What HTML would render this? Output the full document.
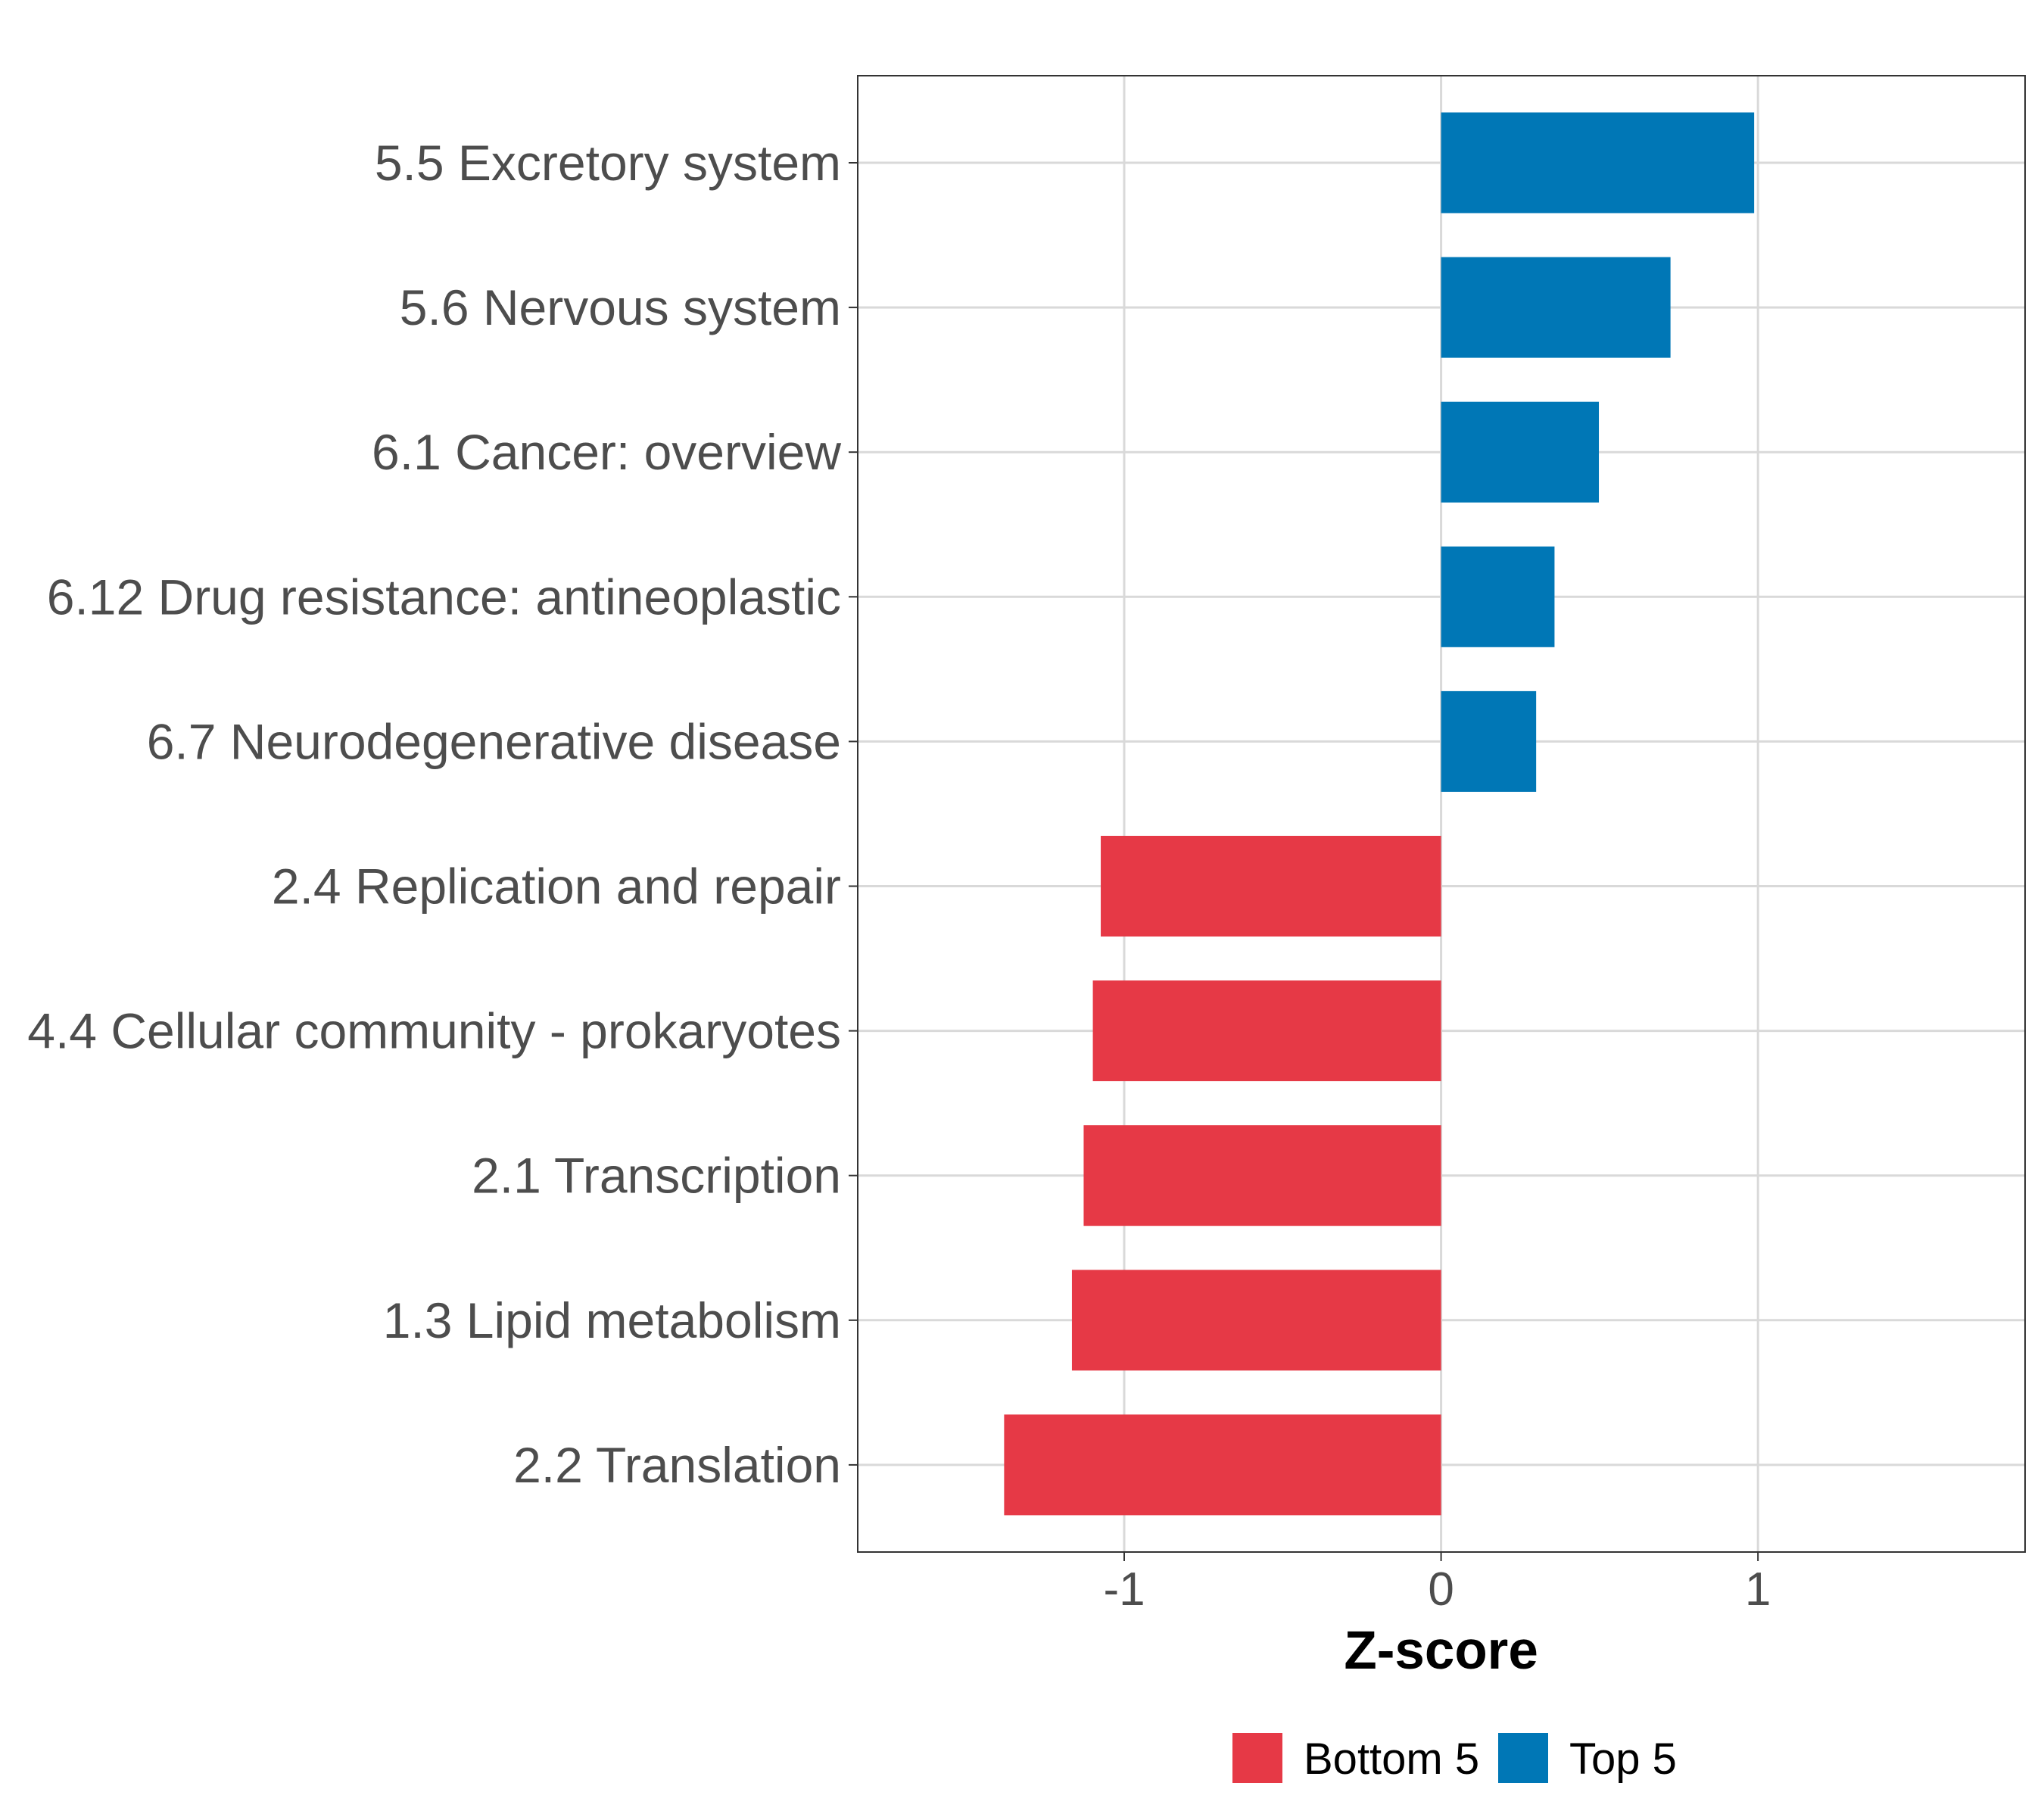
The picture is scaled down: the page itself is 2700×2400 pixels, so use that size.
<!DOCTYPE html>
<html><head><meta charset="utf-8"><style>
html,body{margin:0;padding:0;background:#fff;}
svg{display:block;font-family:"Liberation Sans",Arial,sans-serif;}
</style></head><body>
<svg id="chart" width="2700" height="2400" viewBox="0 0 2700 2400"></svg>
<script>
const categories=["5.5 Excretory system","5.6 Nervous system","6.1 Cancer: overview","6.12 Drug resistance: antineoplastic","6.7 Neurodegenerative disease","2.4 Replication and repair","4.4 Cellular community - prokaryotes","2.1 Transcription","1.3 Lipid metabolism","2.2 Translation"];
const values=[0.988,0.724,0.498,0.358,0.30,-1.074,-1.099,-1.128,-1.165,-1.379];
const groups=["Top 5","Top 5","Top 5","Top 5","Top 5","Bottom 5","Bottom 5","Bottom 5","Bottom 5","Bottom 5"];
const xTicks=[-1,0,1];
const xTickLabels=["-1","0","1"];
const legendLabels=["Bottom 5","Top 5"];

const NS="http://www.w3.org/2000/svg";
const svg=document.getElementById('chart');
const L=1133,R=2675,T=100,B=2050;
const xMin=-1.841,xMax=1.843;
const xs=v=>L+(v-xMin)/(xMax-xMin)*(R-L);
const step=191.1, y0=215;
const ys=i=>y0+i*step;
const barH=133;
const colors={"Top 5":"#0077b6","Bottom 5":"#e63946"};
function mk(tag,attrs,parent){const e=document.createElementNS(NS,tag);for(const k in attrs)e.setAttribute(k,attrs[k]);(parent||svg).appendChild(e);return e;}

xTicks.forEach((t,i)=>{
  const g=mk('line',{x1:xs(t),x2:xs(t),y1:T,y2:B,stroke:'#d9d9d9','stroke-width':3});
  
  
});
categories.forEach((c,i)=>{
  const g=mk('line',{x1:L,x2:R,y1:ys(i),y2:ys(i),stroke:'#d9d9d9','stroke-width':3});
  
  
});
categories.forEach((c,i)=>{
  const v=values[i];
  const x=Math.min(xs(0),xs(v)), w=Math.abs(xs(v)-xs(0));
  const r=mk('rect',{x:x,y:ys(i)-barH/2,width:w,height:barH,fill:colors[groups[i]]});
  
  
});
const pb=mk('rect',{x:L,y:T,width:R-L,height:B-T,fill:'none',stroke:'#333','stroke-width':2});


categories.forEach((c,i)=>{
  const tk=mk('line',{x1:L-12,x2:L,y1:ys(i),y2:ys(i),stroke:'#333','stroke-width':2});
  
  
  const t=mk('text',{x:L-22,y:ys(i)+23,'text-anchor':'end','font-size':66,fill:'#4d4d4d'});
  t.textContent=c;
  
  
});
xTicks.forEach((v,i)=>{
  const tk=mk('line',{x1:xs(v),x2:xs(v),y1:B,y2:B+12,stroke:'#333','stroke-width':2});
  
  
  const t=mk('text',{x:xs(v),y:B+70,'text-anchor':'middle','font-size':62,fill:'#4d4d4d'});
  t.textContent=xTickLabels[i];
  
  
});
const xt=mk('text',{x:xs(0),y:2204,'text-anchor':'middle','font-size':71,'font-weight':'bold',fill:'#000'});
xt.textContent='Z-score';


const lx=[1628,1979], tx=[1722,2073];
legendLabels.forEach((l,i)=>{
  const r=mk('rect',{x:lx[i],y:2289,width:66,height:66,fill:colors[l]});
  
  
  const t=mk('text',{x:tx[i],y:2343,'font-size':58,fill:'#000'});
  t.textContent=l;
  
  
});
</script>
</body></html>
